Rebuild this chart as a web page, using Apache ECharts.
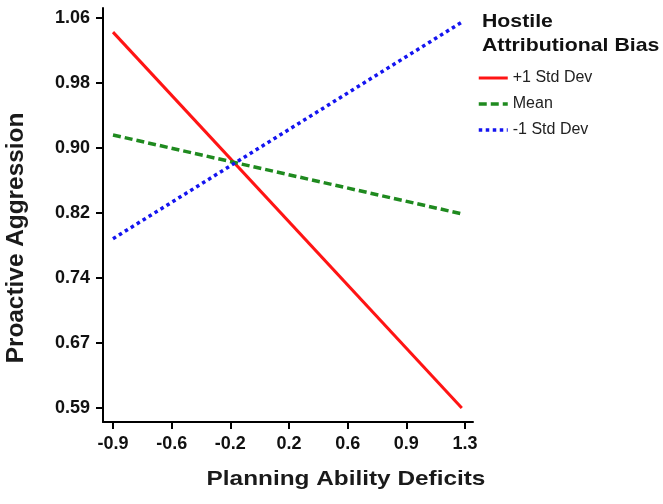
<!DOCTYPE html>
<html>
<head>
<meta charset="utf-8">
<script src="https://cdn.jsdelivr.net/npm/echarts@6/dist/echarts.min.js"></script>
<style>html,body{margin:0;padding:0;background:#fff;}#c{width:663px;height:504px;}</style>
</head>
<body>
<div id="c"></div>
<script>
// ---- data ----
const seriesNames = ['+1 Std Dev', 'Mean', '-1 Std Dev'];
const xEnds = [-0.9, 1.28];
const plusSD = [1.043, 0.590];
const meanVals = [0.919, 0.824];
const minusSD = [0.794, 1.055];
const xTickLabels = ['-0.9', '-0.6', '-0.2', '0.2', '0.6', '0.9', '1.3'];
const yTickLabels = ['0.59', '0.67', '0.74', '0.82', '0.90', '0.98', '1.06'];
const xTickFirst = -0.9, xTickLast = 1.3;
const yTickFirst = 0.59, yTickLast = 1.06;
const xTitle = 'Planning Ability Deficits';
const yTitle = 'Proactive Aggression';
const legendTitle = ['Hostile', 'Attributional Bias'];

// ---- build ----
const FONT = "'Liberation Sans', Arial, sans-serif";
const colors = ['#ff1414', '#1f8a1f', '#1414f0'];
const lineTypes = ['solid', [8, 4], [3.5, 3.5]];
const lineWidths = [3, 3.5, 3.5];
const xStep = (xTickLast - xTickFirst) / (xTickLabels.length - 1);
const yStep = (yTickLast - yTickFirst) / (yTickLabels.length - 1);
const xTicks = xTickLabels.map((_, i) => xTickFirst + i * xStep);
const yTicks = yTickLabels.map((_, i) => yTickFirst + i * yStep);
const pair = (ys) => xEnds.map((x, i) => [x, ys[i]]);
const seriesValues = [plusSD, meanVals, minusSD];

const chart = echarts.init(document.getElementById('c'), null, {renderer: 'canvas'});
const tickStyle = {show: true, inside: false, length: 7, lineStyle: {color: '#000', width: 2}};
chart.setOption({
  animation: false,
  backgroundColor: '#fff',
  grid: {left: 103, right: 190, top: 8, bottom: 82, containLabel: false},
  xAxis: {
    type: 'value',
    min: xTickFirst - 0.0625,
    max: xTickLast + 0.05,
    axisLine: {show: true, onZero: false, lineStyle: {color: '#000', width: 2}},
    splitLine: {show: false},
    axisTick: Object.assign({}, tickStyle, {customValues: xTicks}),
    axisLabel: {
      customValues: xTicks,
      margin: 13,
      fontFamily: FONT, fontWeight: 'bold', fontSize: 18, color: '#111',
      formatter: (v) => xTickLabels[Math.round((v - xTickFirst) / xStep)]
    }
  },
  yAxis: {
    type: 'value',
    min: yTickFirst - 14 * (yStep / 65),
    max: yTickLast + 10 * (yStep / 65),
    axisLine: {show: true, onZero: false, lineStyle: {color: '#000', width: 2}},
    splitLine: {show: false},
    axisTick: Object.assign({}, tickStyle, {customValues: yTicks}),
    axisLabel: {
      customValues: yTicks,
      margin: 13,
      fontFamily: FONT, fontWeight: 'bold', fontSize: 18, color: '#111',
      formatter: (v) => yTickLabels[Math.round((v - yTickFirst) / yStep)]
    }
  },
  legend: {
    orient: 'vertical',
    left: 472, top: 65,
    itemWidth: 29, itemHeight: 14, itemGap: 10,
    itemStyle: {opacity: 0},
    textStyle: {fontFamily: FONT, fontSize: 16, color: '#222', lineHeight: 16},
    data: seriesNames.map((n, i) => ({
      name: n,
      itemStyle: {opacity: 0},
      lineStyle: {color: colors[i], width: lineWidths[i], type: lineTypes[i], opacity: 1}
    }))
  },
  series: seriesNames.map((n, i) => ({
    name: n, type: 'line', data: pair(seriesValues[i]), symbol: 'none',
    lineStyle: {color: colors[i], width: lineWidths[i], type: lineTypes[i]},
    itemStyle: {color: colors[i]}
  })),
  graphic: [
    {type: 'text', x: 346, y: 479, scaleX: 1.16, style: {text: xTitle, font: "bold 21px " + FONT, fill: '#1a1a1a', align: 'center', verticalAlign: 'middle'}},
    {type: 'text', x: 17, y: 238, rotation: Math.PI / 2, scaleX: 1.06, style: {text: yTitle, font: "bold 23px " + FONT, fill: '#1a1a1a', align: 'center', verticalAlign: 'middle'}},
    {type: 'text', x: 482, y: 22, scaleX: 1.12, style: {text: legendTitle[0], font: "bold 19px " + FONT, fill: '#111', align: 'left', verticalAlign: 'middle'}},
    {type: 'text', x: 482, y: 46, scaleX: 1.12, style: {text: legendTitle[1], font: "bold 19px " + FONT, fill: '#111', align: 'left', verticalAlign: 'middle'}}
  ]
});
</script>
</body>
</html>
